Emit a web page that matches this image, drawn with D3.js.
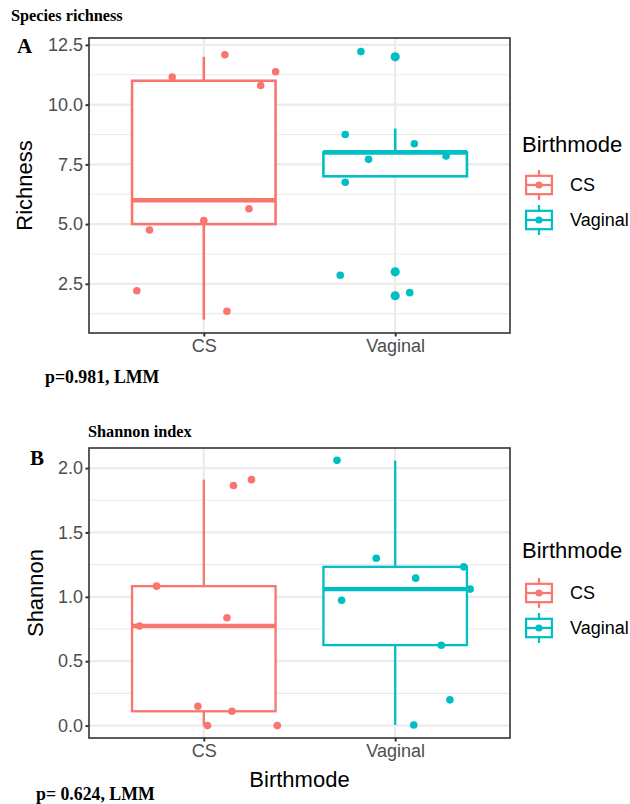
<!DOCTYPE html>
<html>
<head>
<meta charset="utf-8">
<script src="https://cdn.jsdelivr.net/npm/d3@7"></script>
<style>
  html, body { margin: 0; padding: 0; background: #fff; }
  svg { display: block; }
</style>
</head>
<body>
<svg id="chart" width="630" height="804"></svg>
<script>
// ---- data ----
const groups = ["CS", "Vaginal"];
const groupColors = ["#F8766D", "#00BFC4"];

// Species richness: box statistics per group
const richLower  = [1.0, 7.0];
const richQ1     = [5.0, 7.0];
const richMedian = [6.0, 8.0];
const richQ3     = [11.0, 8.0];
const richUpper  = [12.0, 9.0];
const richOutGroup = ["Vaginal", "Vaginal", "Vaginal"];
const richOutValue = [12.0, 3.0, 2.0];
// jittered sample points (offset in category units)
const richPtGroup  = ["CS","CS","CS","CS","CS","CS","CS","CS","CS",
                      "Vaginal","Vaginal","Vaginal","Vaginal","Vaginal","Vaginal","Vaginal","Vaginal"];
const richPtJitter = [-0.165, 0.11, 0.375, 0.297, 0.236, 0.0, -0.284, -0.35, 0.121,
                      -0.179, -0.261, 0.10, -0.139, 0.266, -0.261, -0.287, 0.076];
const richPtValue  = [11.16, 12.09, 11.38, 10.80, 5.64, 5.15, 4.75, 2.21, 1.35,
                      12.22, 8.75, 8.36, 7.71, 7.85, 6.75, 2.86, 2.13];
const richTicks = [2.5, 5.0, 7.5, 10.0, 12.5];

// Shannon index: box statistics per group
const shanLower  = [0.0, 0.005];
const shanQ1     = [0.111, 0.625];
const shanMedian = [0.774, 1.06];
const shanQ3     = [1.083, 1.233];
const shanUpper  = [1.91, 2.057];
const shanOutGroup = [];
const shanOutValue = [];
const shanPtGroup  = ["CS","CS","CS","CS","CS","CS","CS","CS","CS",
                      "Vaginal","Vaginal","Vaginal","Vaginal","Vaginal","Vaginal","Vaginal","Vaginal","Vaginal"];
const shanPtJitter = [0.155, 0.249, -0.247, 0.121, -0.336, -0.031, 0.147, 0.019, 0.384,
                      -0.304, -0.099, 0.107, 0.358, 0.392, -0.28, 0.241, 0.286, 0.097];
const shanPtValue  = [1.865, 1.91, 1.083, 0.837, 0.774, 0.15, 0.111, 0.0, 0.0,
                      2.06, 1.30, 1.145, 1.233, 1.06, 0.974, 0.624, 0.20, 0.005];
const shanTicks = [0.0, 0.5, 1.0, 1.5, 2.0];

// ---- drawing ----
const svg = d3.select("#chart");
const sansFont = "'Liberation Sans', Arial, sans-serif";
const serifFont = "'Liberation Serif', 'Times New Roman', serif";
const color = d3.scaleOrdinal().domain(groups).range(groupColors);

function drawPanel(cfg) {
  const { left, right, top, bottom, yDomain, ticks, box, outGroup, outValue,
          ptGroup, ptJitter, ptValue, yTitle, yTitleX, xTitle, boxLw, medLw } = cfg;

  const x = d3.scalePoint().domain(groups).range([left, right]).padding(0.6);
  const step = x.step();
  const y = d3.scaleLinear().domain(yDomain).range([bottom, top]);
  const g = svg.append("g");

  // grid: minor then major
  const minor = d3.range(ticks.length + 1).map(i => {
    const d = ticks[1] - ticks[0];
    return ticks[0] - d / 2 + i * d;
  }).filter(v => v > yDomain[0] && v < yDomain[1]);
  g.selectAll(".minor").data(minor).join("line")
    .attr("x1", left).attr("x2", right)
    .attr("y1", d => y(d)).attr("y2", d => y(d))
    .attr("stroke", "#EBEBEB").attr("stroke-width", 1.1);
  g.selectAll(".majorY").data(ticks).join("line")
    .attr("x1", left).attr("x2", right)
    .attr("y1", d => y(d)).attr("y2", d => y(d))
    .attr("stroke", "#EBEBEB").attr("stroke-width", 2.2);
  g.selectAll(".majorX").data(groups).join("line")
    .attr("x1", d => x(d)).attr("x2", d => x(d))
    .attr("y1", top).attr("y2", bottom)
    .attr("stroke", "#EBEBEB").attr("stroke-width", 2.2);

  // boxplots
  const bw = step * 0.75;
  groups.forEach((grp, i) => {
    const cx = x(grp);
    const c = color(grp);
    const bg = g.append("g");
    bg.append("line").attr("x1", cx).attr("x2", cx)
      .attr("y1", y(box.upper[i])).attr("y2", y(box.q3[i]))
      .attr("stroke", c).attr("stroke-width", boxLw);
    bg.append("line").attr("x1", cx).attr("x2", cx)
      .attr("y1", y(box.q1[i])).attr("y2", y(box.lower[i]))
      .attr("stroke", c).attr("stroke-width", boxLw);
    bg.append("rect")
      .attr("x", cx - bw / 2).attr("width", bw)
      .attr("y", y(box.q3[i])).attr("height", Math.max(0, y(box.q1[i]) - y(box.q3[i])))
      .attr("fill", "#fff").attr("stroke", c).attr("stroke-width", boxLw);
    bg.append("line").attr("x1", cx - bw / 2).attr("x2", cx + bw / 2)
      .attr("y1", y(box.median[i])).attr("y2", y(box.median[i]))
      .attr("stroke", c).attr("stroke-width", medLw);
  });

  // outliers
  g.selectAll(".out").data(outValue).join("circle")
    .attr("cx", (d, i) => x(outGroup[i]))
    .attr("cy", d => y(d))
    .attr("r", 4.6)
    .attr("fill", (d, i) => color(outGroup[i]));

  // jittered points
  g.selectAll(".pt").data(ptValue).join("circle")
    .attr("cx", (d, i) => x(ptGroup[i]) + ptJitter[i] * step)
    .attr("cy", d => y(d))
    .attr("r", 3.8)
    .attr("fill", (d, i) => color(ptGroup[i]));

  // panel border
  g.append("rect").attr("x", left).attr("y", top)
    .attr("width", right - left).attr("height", bottom - top)
    .attr("fill", "none").attr("stroke", "#333333").attr("stroke-width", 1.6);

  // y axis
  const ya = g.append("g").attr("transform", `translate(${left},0)`)
    .call(d3.axisLeft(y).tickValues(ticks).tickFormat(d3.format(".1f")).tickSize(3.5).tickPadding(2.5));
  ya.select(".domain").remove();
  ya.selectAll(".tick line").attr("stroke", "#333333").attr("stroke-width", 2);
  ya.selectAll(".tick text").attr("fill", "#4D4D4D")
    .style("font-family", sansFont).style("font-size", "18px");

  // x axis
  const xa = g.append("g").attr("transform", `translate(0,${bottom})`)
    .call(d3.axisBottom(x).tickSize(3.5).tickPadding(3));
  xa.select(".domain").remove();
  xa.selectAll(".tick line").attr("stroke", "#333333").attr("stroke-width", 2);
  xa.selectAll(".tick text").attr("fill", "#4D4D4D")
    .style("font-family", sansFont).style("font-size", "18px");

  // y title
  g.append("text")
    .attr("transform", `translate(${yTitleX},${(top + bottom) / 2}) rotate(-90)`)
    .attr("text-anchor", "middle")
    .style("font-family", sansFont).style("font-size", "22px")
    .text(yTitle);

  if (xTitle) {
    g.append("text").attr("x", (left + right) / 2).attr("y", xTitle.y)
      .attr("text-anchor", "middle")
      .style("font-family", sansFont).style("font-size", "22px")
      .text(xTitle.text);
  }
}

function drawLegend(titleY, keyY0, keyStep) {
  const g = svg.append("g");
  g.append("text").attr("x", 522).attr("y", titleY)
    .style("font-family", sansFont).style("font-size", "22px")
    .text("Birthmode");
  const ks = 34;
  groups.forEach((grp, i) => {
    const cy = keyY0 + i * keyStep;
    const kx = 522;
    const c = color(grp);
    const kg = g.append("g");
    kg.append("line").attr("x1", kx + ks / 2).attr("x2", kx + ks / 2)
      .attr("y1", cy - ks * 0.44).attr("y2", cy + ks * 0.44)
      .attr("stroke", c).attr("stroke-width", 2.2);
    kg.append("rect").attr("x", kx + ks * 0.12).attr("width", ks * 0.76)
      .attr("y", cy - ks * 0.27).attr("height", ks * 0.54)
      .attr("fill", "#fff").attr("stroke", c).attr("stroke-width", 2.2);
    kg.append("line").attr("x1", kx + ks * 0.12).attr("x2", kx + ks * 0.88)
      .attr("y1", cy).attr("y2", cy)
      .attr("stroke", c).attr("stroke-width", 2.2);
    kg.append("circle").attr("cx", kx + ks / 2).attr("cy", cy).attr("r", 3.6).attr("fill", c);
    g.append("text").attr("x", 570).attr("y", cy).attr("dy", "0.35em")
      .style("font-family", sansFont).style("font-size", "18px")
      .text(grp);
  });
}

// Panel A
drawPanel({
  left: 89, right: 510, top: 38, bottom: 333,
  yDomain: [0.44, 12.79], ticks: richTicks,
  box: { lower: richLower, q1: richQ1, median: richMedian, q3: richQ3, upper: richUpper },
  outGroup: richOutGroup, outValue: richOutValue,
  ptGroup: richPtGroup, ptJitter: richPtJitter, ptValue: richPtValue,
  yTitle: "Richness", yTitleX: 32, boxLw: 2.6, medLw: 4.6
});
drawLegend(152, 185, 35);

// Panel B
drawPanel({
  left: 89, right: 510, top: 448, bottom: 738,
  yDomain: [-0.0965, 2.156], ticks: shanTicks,
  box: { lower: shanLower, q1: shanQ1, median: shanMedian, q3: shanQ3, upper: shanUpper },
  outGroup: shanOutGroup, outValue: shanOutValue,
  ptGroup: shanPtGroup, ptJitter: shanPtJitter, ptValue: shanPtValue,
  yTitle: "Shannon", yTitleX: 43, boxLw: 2.3, medLw: 4.4,
  xTitle: { text: "Birthmode", y: 787 }
});
drawLegend(558, 593, 35);

// panel labels and annotations
const ann = [
  { text: "Species richness", x: 11, y: 21, size: 16.3 },
  { text: "A", x: 17, y: 53, size: 21 },
  { text: "p=0.981, LMM", x: 45, y: 383, size: 17.8 },
  { text: "Shannon index", x: 88, y: 437, size: 16.3 },
  { text: "B", x: 30, y: 465, size: 21 },
  { text: "p= 0.624, LMM", x: 36, y: 800, size: 17.8 }
];
svg.selectAll(".ann").data(ann).join("text")
  .attr("x", d => d.x).attr("y", d => d.y)
  .style("font-family", serifFont).style("font-weight", "bold")
  .style("font-size", d => d.size + "px")
  .text(d => d.text);
</script>
</body>
</html>
